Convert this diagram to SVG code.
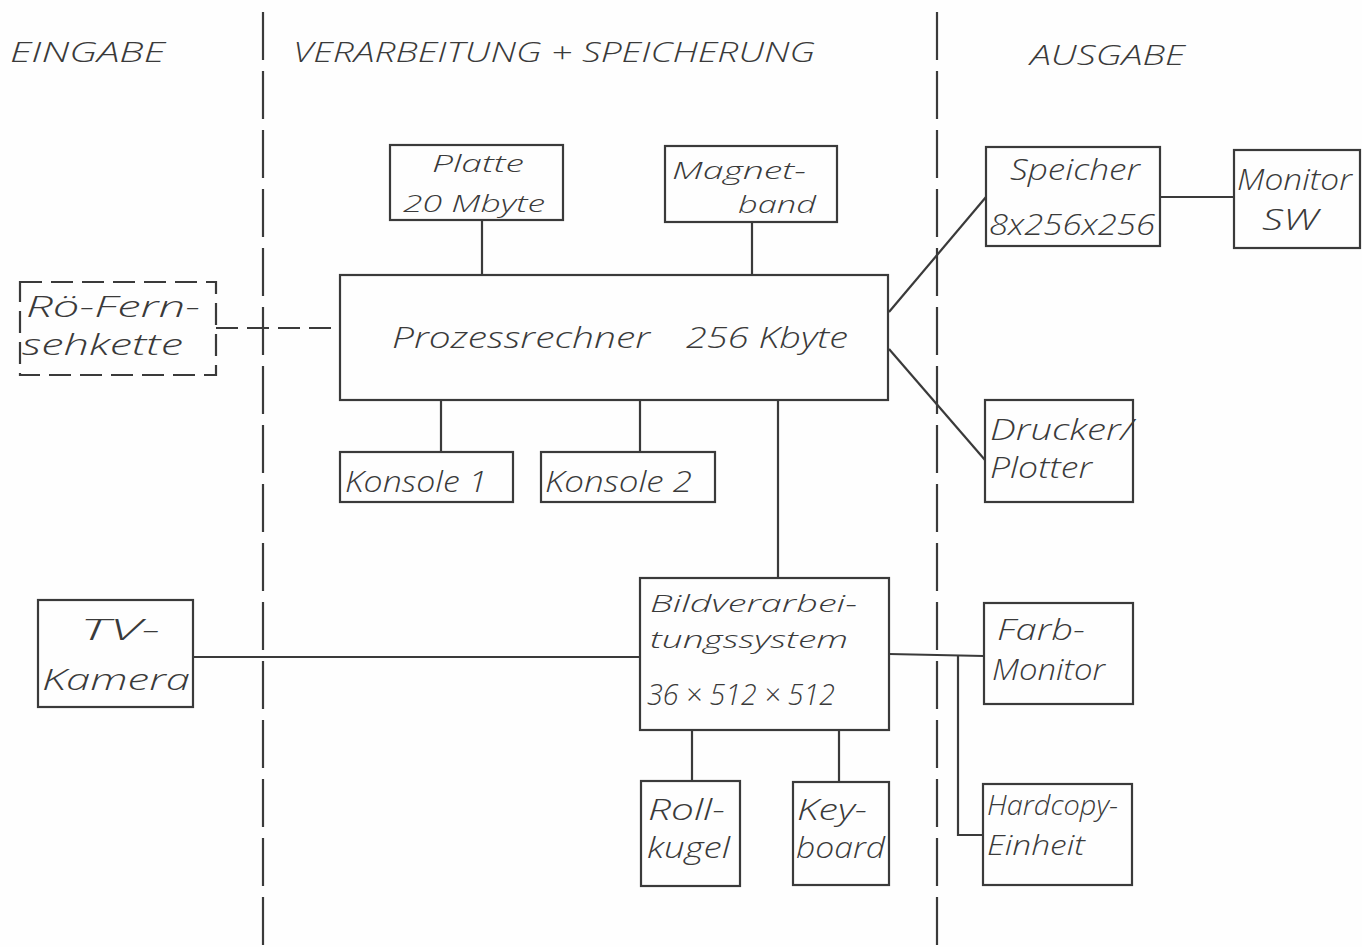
<svg xmlns="http://www.w3.org/2000/svg" width="1362" height="947" viewBox="0 0 1362 947">
<style>
.b{fill:none;stroke:#3a3a3a;stroke-width:2.2}
.c{fill:none;stroke:#3a3a3a;stroke-width:2.2}
.d{fill:none;stroke:#3a3a3a;stroke-width:2.2;stroke-dasharray:22 9}
.sep{fill:none;stroke:#3a3a3a;stroke-width:2.2;stroke-dasharray:48 11}
text{font-family:"Open Sans","DejaVu Sans",sans-serif;font-style:italic;font-weight:300;fill:#3a3a3a;font-size:30px}
.h{font-size:27px}
.s{font-size:24px}
</style>
<rect width="1362" height="947" fill="#fefefe"/>
<g id="separators">
<line class="sep" x1="263" y1="12" x2="263" y2="947"/>
<line class="sep" x1="937" y1="12" x2="937" y2="947"/>
</g>
<g id="headers">
<text class="h" x="10" y="62" textLength="155" lengthAdjust="spacingAndGlyphs">EINGABE</text>
<text class="h" x="293" y="62" textLength="522" lengthAdjust="spacingAndGlyphs">VERARBEITUNG + SPEICHERUNG</text>
<text class="h" x="1030" y="65" textLength="155" lengthAdjust="spacingAndGlyphs">AUSGABE</text>
</g>
<g id="connectors">
<line class="c" x1="482" y1="220" x2="482" y2="275"/>
<line class="c" x1="752" y1="222" x2="752" y2="275"/>
<line class="c" x1="441" y1="400" x2="441" y2="452"/>
<line class="c" x1="640" y1="400" x2="640" y2="452"/>
<line class="c" x1="778" y1="400" x2="778" y2="578"/>
<line class="d" x1="216" y1="328" x2="340" y2="328"/>
<line class="c" x1="889" y1="312" x2="986" y2="197"/>
<line class="c" x1="889" y1="349" x2="985" y2="460"/>
<line class="c" x1="1160" y1="197" x2="1234" y2="197"/>
<line class="c" x1="193" y1="657" x2="640" y2="657"/>
<polyline class="c" points="889,654 937,655 984,656"/>
<polyline class="c" points="958,655 958,835 983,835"/>
<line class="c" x1="692" y1="730" x2="692" y2="781"/>
<line class="c" x1="839" y1="730" x2="839" y2="782"/>
</g>
<g id="platte"><rect class="b" x="390" y="145" width="173" height="75"/>
<text class="s" x="432" y="172" textLength="92" lengthAdjust="spacingAndGlyphs">Platte</text>
<text class="s" x="403" y="212" textLength="142" lengthAdjust="spacingAndGlyphs">20 Mbyte</text></g>
<g id="magnetband"><rect class="b" x="665" y="146" width="172" height="76"/>
<text class="s" x="672" y="179" textLength="134" lengthAdjust="spacingAndGlyphs">Magnet-</text>
<text class="s" x="738" y="213" textLength="78" lengthAdjust="spacingAndGlyphs">band</text></g>
<g id="prozessrechner"><rect class="b" x="340" y="275" width="548" height="125"/>
<text x="392" y="348" textLength="258" lengthAdjust="spacingAndGlyphs">Prozessrechner</text>
<text x="686" y="348" textLength="162" lengthAdjust="spacingAndGlyphs">256 Kbyte</text></g>
<g id="roefernsehkette"><rect class="d" x="20" y="282" width="196" height="93"/>
<text x="26" y="317" textLength="174" lengthAdjust="spacingAndGlyphs">Rö-Fern-</text>
<text x="22" y="355" textLength="161" lengthAdjust="spacingAndGlyphs">sehkette</text></g>
<g id="konsole1"><rect class="b" x="340" y="452" width="173" height="50"/>
<text x="345" y="492" textLength="142" lengthAdjust="spacingAndGlyphs">Konsole 1</text></g>
<g id="konsole2"><rect class="b" x="541" y="452" width="174" height="50"/>
<text x="545" y="492" textLength="147" lengthAdjust="spacingAndGlyphs">Konsole 2</text></g>
<g id="speicher"><rect class="b" x="986" y="147" width="174" height="99"/>
<text x="1010" y="180" textLength="130" lengthAdjust="spacingAndGlyphs">Speicher</text>
<text x="989" y="235" textLength="166" lengthAdjust="spacingAndGlyphs">8x256x256</text></g>
<g id="monitorsw"><rect class="b" x="1234" y="150" width="126" height="98"/>
<text x="1237" y="190" textLength="115" lengthAdjust="spacingAndGlyphs">Monitor</text>
<text x="1262" y="230" textLength="56" lengthAdjust="spacingAndGlyphs">SW</text></g>
<g id="druckerplotter"><rect class="b" x="985" y="400" width="148" height="102"/>
<text x="990" y="440" textLength="143" lengthAdjust="spacingAndGlyphs">Drucker/</text>
<text x="990" y="478" textLength="102" lengthAdjust="spacingAndGlyphs">Plotter</text></g>
<g id="tvkamera"><rect class="b" x="38" y="600" width="155" height="107"/>
<text x="80" y="640" textLength="80" lengthAdjust="spacingAndGlyphs">TV-</text>
<text x="42" y="690" textLength="148" lengthAdjust="spacingAndGlyphs">Kamera</text></g>
<g id="bildverarbeitung"><rect class="b" x="640" y="578" width="249" height="152"/>
<text class="s" x="650" y="612" textLength="207" lengthAdjust="spacingAndGlyphs">Bildverarbei-</text>
<text class="s" x="650" y="648" textLength="198" lengthAdjust="spacingAndGlyphs">tungssystem</text>
<text x="647" y="705" textLength="188" lengthAdjust="spacingAndGlyphs">36 × 512 × 512</text></g>
<g id="rollkugel"><rect class="b" x="641" y="781" width="99" height="105"/>
<text x="648" y="820" textLength="77" lengthAdjust="spacingAndGlyphs">Roll-</text>
<text x="647" y="858" textLength="83" lengthAdjust="spacingAndGlyphs">kugel</text></g>
<g id="keyboard"><rect class="b" x="793" y="782" width="96" height="103"/>
<text x="797" y="820" textLength="70" lengthAdjust="spacingAndGlyphs">Key-</text>
<text x="796" y="858" textLength="89" lengthAdjust="spacingAndGlyphs">board</text></g>
<g id="farbmonitor"><rect class="b" x="984" y="603" width="149" height="101"/>
<text x="997" y="640" textLength="88" lengthAdjust="spacingAndGlyphs">Farb-</text>
<text x="992" y="680" textLength="113" lengthAdjust="spacingAndGlyphs">Monitor</text></g>
<g id="hardcopy"><rect class="b" x="983" y="784" width="149" height="101"/>
<text class="h" x="987" y="815" textLength="131" lengthAdjust="spacingAndGlyphs">Hardcopy-</text>
<text class="h" x="987" y="855" textLength="98" lengthAdjust="spacingAndGlyphs">Einheit</text></g>
</svg>
